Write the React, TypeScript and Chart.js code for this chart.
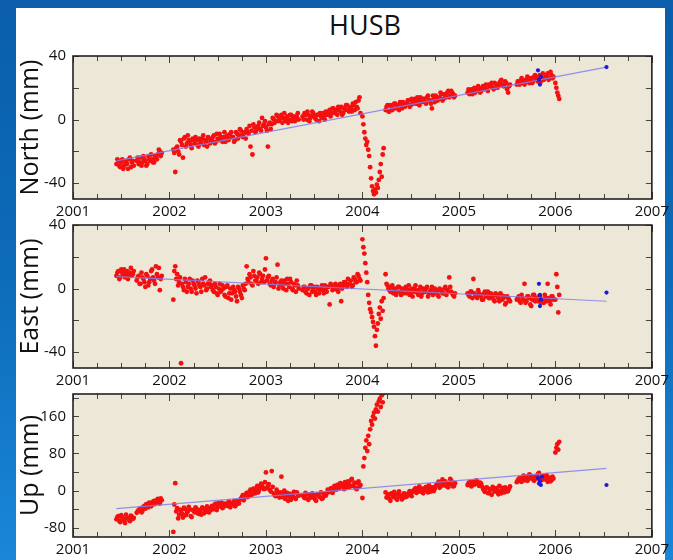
import React, { useEffect, useRef } from 'react';
import { Chart, registerables } from 'chart.js';

Chart.register(...registerables);

// ---- epochs (decimal years), shared by the three components ----
const EPOCHS = [
  2001.45, 2001.47, 2001.49, 2001.51, 2001.53, 2001.55, 2001.57, 2001.59, 2001.61, 2001.63,
  2001.66, 2001.68, 2001.70, 2001.72, 2001.74, 2001.76, 2001.78, 2001.80, 2001.82, 2001.84, 2001.86, 2001.88, 2001.90, 2001.92,
  2002.04, 2002.06, 2002.08, 2002.10, 2002.12, 2002.14, 2002.16, 2002.18, 2002.20, 2002.22, 2002.24, 2002.26, 2002.28, 2002.30, 2002.32, 2002.34, 2002.36, 2002.38, 2002.40, 2002.42,
  2002.44, 2002.46, 2002.48, 2002.50, 2002.52, 2002.54, 2002.56, 2002.58, 2002.60, 2002.62, 2002.64, 2002.66, 2002.68, 2002.70, 2002.72, 2002.74, 2002.76, 2002.78,
  2002.80, 2002.82, 2002.84, 2002.86, 2002.88, 2002.90, 2002.92, 2002.94, 2002.96, 2002.98,
  2003.00, 2003.02, 2003.04, 2003.06, 2003.08, 2003.10, 2003.12, 2003.14, 2003.16, 2003.18, 2003.20, 2003.22, 2003.24, 2003.26, 2003.28, 2003.30, 2003.32, 2003.34,
  2003.38, 2003.40, 2003.42, 2003.44, 2003.46, 2003.48, 2003.50, 2003.52, 2003.54, 2003.56, 2003.58, 2003.60, 2003.62, 2003.64, 2003.66, 2003.68, 2003.70, 2003.72, 2003.74, 2003.76, 2003.78, 2003.80, 2003.82, 2003.84, 2003.86, 2003.88, 2003.90, 2003.92, 2003.94, 2003.96, 2003.98,
  2004.00, 2004.01, 2004.02, 2004.03, 2004.04, 2004.05, 2004.06, 2004.07, 2004.08, 2004.09, 2004.10, 2004.11, 2004.12, 2004.13, 2004.14, 2004.15, 2004.16, 2004.17, 2004.18, 2004.19, 2004.20, 2004.21, 2004.22,
  2004.24, 2004.26, 2004.28, 2004.30, 2004.32, 2004.34, 2004.36, 2004.38, 2004.40, 2004.42, 2004.44, 2004.46, 2004.48, 2004.50, 2004.52, 2004.54, 2004.56, 2004.58, 2004.60, 2004.62, 2004.64, 2004.66, 2004.68, 2004.70, 2004.72, 2004.74, 2004.76, 2004.78, 2004.80, 2004.82, 2004.84, 2004.86, 2004.88, 2004.90, 2004.92, 2004.94, 2004.96,
  2005.09, 2005.11, 2005.13, 2005.15, 2005.17, 2005.19, 2005.21, 2005.23, 2005.25, 2005.27, 2005.29, 2005.31, 2005.33, 2005.35, 2005.37, 2005.39, 2005.41, 2005.43, 2005.45, 2005.47, 2005.49, 2005.51, 2005.53,
  2005.60, 2005.62, 2005.64, 2005.66, 2005.68, 2005.70, 2005.72, 2005.74, 2005.76, 2005.78, 2005.80, 2005.82, 2005.84, 2005.86, 2005.88, 2005.90, 2005.92, 2005.94, 2005.96, 2005.98,
  2006.00, 2006.01, 2006.02, 2006.03, 2006.04,
];

// in-between epochs (second half of the daily solutions)
const EPOCHS_B = [
  2001.46, 2001.48, 2001.50, 2001.52, 2001.54, 2001.56, 2001.58, 2001.60, 2001.62,
  2001.67, 2001.69, 2001.71, 2001.73, 2001.75, 2001.77, 2001.79, 2001.81, 2001.83, 2001.85, 2001.87, 2001.89, 2001.91,
  2002.05, 2002.07, 2002.09, 2002.11, 2002.13, 2002.15, 2002.17, 2002.19, 2002.21, 2002.23, 2002.25, 2002.27, 2002.29, 2002.31, 2002.33, 2002.35, 2002.37, 2002.39, 2002.41, 2002.43,
  2002.45, 2002.47, 2002.49, 2002.51, 2002.53, 2002.55, 2002.57, 2002.59, 2002.61, 2002.63, 2002.65, 2002.67, 2002.69, 2002.71, 2002.73, 2002.75, 2002.77, 2002.79,
  2002.81, 2002.83, 2002.85, 2002.87, 2002.89, 2002.91, 2002.93, 2002.95, 2002.97, 2002.99,
  2003.01, 2003.03, 2003.05, 2003.07, 2003.09, 2003.11, 2003.13, 2003.15, 2003.17, 2003.19, 2003.21, 2003.23, 2003.25, 2003.27, 2003.29, 2003.31, 2003.33,
  2003.39, 2003.41, 2003.43, 2003.45, 2003.47, 2003.49, 2003.51, 2003.53, 2003.55, 2003.57, 2003.59, 2003.61, 2003.63, 2003.65, 2003.67, 2003.69, 2003.71, 2003.73, 2003.75, 2003.77, 2003.79, 2003.81, 2003.83, 2003.85, 2003.87, 2003.89, 2003.91, 2003.93, 2003.95, 2003.97,
  2004.25, 2004.27, 2004.29, 2004.31, 2004.33, 2004.35, 2004.37, 2004.39, 2004.41, 2004.43, 2004.45, 2004.47, 2004.49, 2004.51, 2004.53, 2004.55, 2004.57, 2004.59, 2004.61, 2004.63, 2004.65, 2004.67, 2004.69, 2004.71, 2004.73, 2004.75, 2004.77, 2004.79, 2004.81, 2004.83, 2004.85, 2004.87, 2004.89, 2004.91, 2004.93, 2004.95,
  2005.10, 2005.12, 2005.14, 2005.16, 2005.18, 2005.20, 2005.22, 2005.24, 2005.26, 2005.28, 2005.30, 2005.32, 2005.34, 2005.36, 2005.38, 2005.40, 2005.42, 2005.44, 2005.46, 2005.48, 2005.50, 2005.52,
  2005.61, 2005.63, 2005.65, 2005.67, 2005.69, 2005.71, 2005.73, 2005.75, 2005.77, 2005.79, 2005.81, 2005.83, 2005.85, 2005.87, 2005.89, 2005.91, 2005.93, 2005.95, 2005.97,
];

// ---- North (mm) ----
const NORTH = [
  -28, -26, -30, -25, -29, -27, -31, -24, -27, -29,
  -26, -28, -24, -27, -25, -29, -23, -26, -25, -27, -24, -22, -20, -21,
  -19, -33, -17, -22, -14, -24, -11, -15, -13, -16, -12, -15, -13, -17, -14, -12, -16, -14, -11, -15,
  -13, -10, -14, -12, -9, -13, -11, -14, -10, -12, -8, -11, -13, -9, -10, -7, -11, -8,
  -6, -9, -17, -22, -5, -7, -4, -6, 1, -3,
  -5, -17, -2, -3, 0, -1, 2, 0, 3, 1, -1, 2, 0, 3, 1, -1, 2, 0,
  2, 4, 0, 3, 1, 5, 2, 0, 3, 4, 1, 2, 5, 3, 6, 4, 7, 5, 3, 6, 8, 4, 6, 9, 5, 7, 10, 6, 8, 12, 4,
  2, -3, -8, -12, -16, -14, -19, -23, -30, -37, -42, -45, -47, -44, -46, -41, -43, -38, -33, -28, -36, -22, -18,
  6, 9, 5, 8, 7, 10, 8, 6, 9, 11, 8, 10, 12, 9, 11, 13, 10, 12, 14, 11, 13, 10, 15, 12, 7, 13, 15, 12, 14, 16, 13, 15, 17, 14, 18, 16, 15,
  17, 16, 19, 18, 17, 20, 19, 18, 21, 20, 19, 22, 21, 20, 23, 22, 21, 24, 22, 21, 23, 17, 22,
  22, 24, 23, 25, 22, 24, 26, 25, 23, 27, 26, 24, 28, 26, 25, 27, 29, 26, 28, 27,
  23, 20, 17, 15, 13,
];
const NORTH_B = [
  -25, -29, -27, -31, -26, -28, -25, -30, -26,
  -24, -27, -29, -23, -26, -28, -25, -22, -27, -23, -25, -19, -23,
  -21, -18, -20, -13, -16, -12, -17, -10, -14, -18, -13, -11, -16, -12, -15, -10, -13, -17, -12, -14,
  -11, -15, -9, -13, -11, -14, -8, -12, -13, -9, -11, -14, -8, -12, -6, -10, -9, -12,
  -8, -4, -7, -3, -8, -5, -2, -7, -4, -1,
  -7, -3, -6, 1, -2, 3, -1, 1, -2, 4, 0, -2, 3, -1, 2, 0, 4,
  0, 3, 5, -1, 2, 4, 1, 3, -1, 2, 4, 0, 3, 5, 2, 7, 4, 6, 8, 5, 3, 7, 9, 6, 8, 5, 9, 11, 7, 14,
  8, 5, 9, 6, 10, 7, 9, 11, 7, 10, 9, 12, 8, 13, 10, 11, 14, 9, 12, 13, 11, 14, 12, 10, 15, 11, 14, 13, 17, 12, 16, 14, 18, 15, 17, 14,
  19, 17, 16, 20, 18, 21, 17, 20, 19, 22, 18, 21, 23, 19, 22, 20, 23, 25, 21, 24, 19, 21,
  24, 22, 26, 23, 25, 27, 23, 26, 24, 28, 25, 27, 24, 29, 26, 28, 25, 30, 26,
];

// ---- East (mm) ----
const EAST = [
  8, 11, 7, 10, 12, 9, 6, 10, 8, 11,
  5, 8, 3, 7, 4, 9, 2, 6, 12, 5, 14, 7, -1, 8,
  -7, 14, 9, 4, -47, 1, 6, -2, 3, 0, 5, 2, -3, 4, 1, 6, 2, -1, 3, 5,
  2, -2, 1, -4, 3, -1, 0, -5, 2, -3, -7, 1, -2, -8, 0, -4, 2, -1,
  14, 4, 7, 2, 8, 5, 3, 9, 6, 4,
  19, 7, 3, 5, 1, 4, 15, 2, 5, 0, 3, 6, 1, 4, -1, 2, 5, 0,
  -1, 1, -3, 0, 2, -2, 1, -4, 0, -1, 2, -3, 0, 1, -10, 2, 0, 3, -1, 1, -8, 2, 4, 1, 3, 5, 2, 6, 4, 8, 5,
  31, 26, 22, 16, 10, 4, -4, -9, -13, -15, -18, -21, -24, -30, -36, -26, -22, -16, -12, -19, -8, -14, -6,
  9, 2, -1, 1, -3, 0, -2, 1, -4, -1, 0, -3, 2, -2, -5, 0, -1, -4, 1, -3, -2, 0, -5, -2, 1, -3, -1, -4, 0, -2, -3, 1, -1, 7, -2, -4, -3,
  -3, -5, -2, 6, -4, -6, -3, -5, -7, -2, -4, -6, -3, -5, -8, -4, -6, -3, -7, -5, -9, -6, -8,
  -7, -5, -9, -6, 3, -8, -5, -10, -7, -4, -6, -8, -5, -7, -9, -6, 3, -8, -5, -7,
  -7, 9, 1, -15, -4,
];
const EAST_B = [
  10, 6, 12, 9, 7, 11, 8, 13, 9,
  7, 3, 10, 6, 1, 8, 4, 11, 7, 3, 9, 13, 6,
  11, 6, 2, 7, 3, -1, 4, 1, 6, -2, 3, 0, 5, 2, -2, 3, 7, 0, 4, 1,
  -1, 3, -3, 0, -2, 2, -4, 1, -6, 0, -3, -1, -5, 1, -2, -6, 0, 3,
  6, 9, 3, 11, 5, 7, 10, 4, 8, 12,
  5, 8, 2, 6, 3, 7, 0, 4, 2, 5, -1, 3, 6, 0, 3, -2, 2,
  1, -2, 0, -4, 2, 0, -2, 1, -3, 0, -1, 2, -2, 1, 3, -1, 0, 2, -2, 3, 0, 4, 2, 6, 3, 1, 7, 4, 9, 6,
  3, 0, -2, 2, -1, -4, 1, -2, 0, -3, 1, -1, -4, 0, -2, 2, -3, -1, -5, 0, -2, 1, -3, -1, -4, 0, -2, -5, -1, -3, 0, -4, -2, 1, -3, -5,
  -4, -2, -6, -3, -5, -1, -4, -7, -3, -5, -2, -6, -4, -7, -3, -5, -8, -4, -6, -10, -5, -7,
  -6, -8, -4, -7, -9, -5, -6, -11, -4, -8, -6, -5, -9, -7, -4, -8, -6, -10, -5,
];

// ---- Up (mm) ----
const UP = [
  -62, -55, -68, -58, -64, -52, -60, -66, -56, -59,
  -48, -42, -38, -44, -33, -29, -36, -27, -31, -22, -25, -18, -28, -21,
  -89, 16, -38, -52, -44, -58, -40, -48, -35, -55, -42, -47, -39, -50, -44, -36, -49, -41, -46, -38,
  -33, -40, -28, -36, -31, -26, -35, -29, -33, -24, -30, -27, -34, -22, -28, -18, -10, -15,
  -5, -12, 2, -8, -2, 5, -4, 8, 12, 3,
  39, 10, 2, 42, -6, -12, -3, -15, 30, -8, -18, -5, -13, -20, -9, -16, -4, -11,
  -10, -16, -8, -20, -12, -6, -15, -22, -9, -14, -18, -7, -11, 2, -3, 5, 0, 8, 12, 4, 15, 9, 18, 6, 14, 22, 10, 17, 3, 20, 12,
  -16, 52, 70, 92, 108, 85, 118, 100, 132, 150, 142, 160, 168, 155, 175, 185, 170, 192, 198, 180, 205, 190, 210,
  -4, -12, -18, -6, -14, -9, -20, -2, -11, -16, -7, -13, -5, -10, -3, 2, -5, 6, -2, 4, 0, 8, -4, 3, 7, -1, 10, 15, 6, 18, 12, 20, 8, 14, 22, 9, 16,
  12, 18, 9, 16, 14, 20, 10, 15, 4, -3, 7, -6, 2, 8, -2, 5, -8, 0, 6, -4, 3, -1, 9,
  18, 25, 20, 28, 22, 30, 24, 33, 26, 21, 29, 36, 27, 23, 31, 25, 19, 28, 22, 26,
  82, 92, 100, 88, 105,
];
const UP_B = [
  -57, -65, -53, -61, -70, -58, -63, -54, -61,
  -45, -40, -47, -35, -39, -31, -26, -34, -24, -29, -20, -26, -17,
  -30, -45, -60, -41, -50, -37, -53, -45, -40, -57, -43, -36, -48, -42, -52, -39, -45, -34, -47, -42,
  -37, -30, -42, -27, -34, -38, -28, -32, -25, -36, -29, -22, -31, -26, -20, -14, -21, -8,
  -14, -2, -9, 4, -6, 10, 1, 15, 6, 18,
  5, 14, -2, 8, -10, 2, -8, -4, -14, 0, -11, -22, -7, -15, -3, -18, -8,
  -13, -5, -18, -9, -15, -11, -19, -8, -13, -4, -16, -10, -6, -1, 4, -5, 10, 2, 7, 16, 11, 3, 14, 20, 8, 25, 13, 5, 16, 9,
  -15, -8, -22, -10, -3, -17, -7, -13, -19, -6, -14, -9, -1, -12, 0, 5, -3, 9, 1, -6, 5, 3, 11, -2, 6, 4, 13, 19, 9, 24, 11, 16, 7, 25, 13, 10,
  16, 11, 19, 13, 22, 14, 17, 9, 0, 6, -5, 3, -9, 5, 1, -3, 10, -6, 2, 7, -2, 4,
  22, 27, 19, 32, 25, 21, 35, 28, 24, 30, 26, 38, 22, 29, 24, 33, 27, 20, 30,
];

// ---- blue points (last solutions) ----
const NORTH_BLUE_T = [2005.82, 2005.83, 2005.84, 2005.85, 2006.53];
const NORTH_BLUE = [31, 25, 22, 27, 33];
const EAST_BLUE_T = [2005.83, 2005.84, 2005.84, 2005.85, 2006.53];
const EAST_BLUE = [3, -4, -11, -7, -2.5];
const UP_BLUE_T = [2005.82, 2005.83, 2005.84, 2005.85, 2005.86, 2006.53];
const UP_BLUE = [27, 15, 20, 12, 30, 12];

// ---- trend lines ----
const TREND_T = [2001.45, 2006.53];
const NORTH_TREND = [-26, 33];
const EAST_TREND = [7.5, -8];
const UP_TREND = [-39, 48];

// ---- ticks ----
const YEARS = [2001, 2002, 2003, 2004, 2005, 2006, 2007];
const X_TICKS = [
  2001, 2001.25, 2001.5, 2001.75, 2002, 2002.25, 2002.5, 2002.75, 2003, 2003.25, 2003.5, 2003.75,
  2004, 2004.25, 2004.5, 2004.75, 2005, 2005.25, 2005.5, 2005.75, 2006, 2006.25, 2006.5, 2006.75, 2007,
];
const NE_TICKS = [-40, -20, 0, 20, 40];
const NE_LABELS = [-40, 0, 40];
const UP_TICKS = [-80, -40, 0, 40, 80, 120, 160, 200];
const UP_LABELS = [-80, 0, 80, 160];

const FONT = "'Open Sans', 'DejaVu Sans', sans-serif";

const framePlugin = {
  id: 'frame',
  beforeDatasetsDraw(chart: any) {
    const { ctx, chartArea: a } = chart;
    ctx.save();
    ctx.fillStyle = '#ece7d6';
    ctx.fillRect(a.left, a.top, a.right - a.left, a.bottom - a.top);
    ctx.restore();
  },
  afterDraw(chart: any) {
    const { ctx, chartArea: a } = chart;
    const x = chart.scales.x;
    const y = chart.scales.y;
    ctx.save();
    ctx.strokeStyle = '#444';
    ctx.lineWidth = 1;
    ctx.beginPath();
    x.ticks.forEach((t: any) => {
      const px = Math.round(x.getPixelForValue(t.value)) + 0.5;
      const len = YEARS.includes(t.value) ? 7 : 5;
      ctx.moveTo(px, a.top);
      ctx.lineTo(px, a.top + len);
      ctx.moveTo(px, a.bottom);
      ctx.lineTo(px, a.bottom - len);
    });
    y.ticks.forEach((t: any) => {
      const py = Math.round(y.getPixelForValue(t.value)) + 0.5;
      ctx.moveTo(a.left, py);
      ctx.lineTo(a.left + 6, py);
      ctx.moveTo(a.right, py);
      ctx.lineTo(a.right - 6, py);
    });
    ctx.stroke();
    ctx.strokeStyle = '#222';
    ctx.lineWidth = 1.6;
    ctx.strokeRect(a.left, a.top, a.right - a.left, a.bottom - a.top);
    ctx.restore();
  },
};

type PanelProps = {
  top: number;
  title: string;
  values: number[];
  valuesB: number[];
  blueT: number[];
  blueV: number[];
  trend: number[];
  yMin: number;
  yMax: number;
  yTicks: number[];
  yLabels: number[];
};

const CANVAS_H = 183;

function pairs(ts: number[], vs: number[]) {
  const n = Math.min(ts.length, vs.length);
  const out = [];
  for (let i = 0; i < n; i++) out.push({ x: ts[i], y: vs[i] });
  return out;
}

function Panel(p: PanelProps) {
  const ref = useRef<HTMLCanvasElement>(null);
  useEffect(() => {
    const red = pairs(EPOCHS, p.values).concat(pairs(EPOCHS_B, p.valuesB));
    const chart = new Chart(ref.current as HTMLCanvasElement, {
      type: 'scatter',
      data: {
        datasets: [
          {
            type: 'scatter',
            data: pairs(p.blueT, p.blueV),
            backgroundColor: '#1c1cd8',
            borderWidth: 0,
            pointRadius: 2.1,
            order: 0,
          } as any,
          {
            type: 'line',
            data: pairs(TREND_T, p.trend),
            borderColor: 'rgba(128,128,240,0.85)',
            borderWidth: 1.2,
            pointRadius: 0,
            fill: false,
            order: 1,
          } as any,
          {
            type: 'scatter',
            data: red,
            backgroundColor: '#f41010',
            borderWidth: 0,
            pointRadius: 2.4,
            order: 2,
          } as any,
        ],
      },
      options: {
        animation: false,
        responsive: false,
        events: [],
        layout: { padding: { left: 0, right: 21, top: 15, bottom: 0 } },
        plugins: { legend: { display: false }, tooltip: { enabled: false } },
        scales: {
          x: {
            type: 'linear',
            min: 2001,
            max: 2007,
            grid: { display: false, drawTicks: false },
            border: { display: false },
            afterBuildTicks: (s: any) => {
              s.ticks = X_TICKS.map((v) => ({ value: v }));
            },
            afterFit: (s: any) => {
              s.height = 24;
            },
            ticks: {
              autoSkip: false,
              maxRotation: 0,
              padding: 4,
              color: '#111',
              font: { family: FONT, size: 15 },
              callback: (v: any) => (YEARS.includes(Number(v)) ? String(v) : ''),
            },
          },
          y: {
            type: 'linear',
            min: p.yMin,
            max: p.yMax,
            grid: { display: false, drawTicks: false },
            border: { display: false },
            afterBuildTicks: (s: any) => {
              s.ticks = p.yTicks.map((v) => ({ value: v }));
            },
            afterFit: (s: any) => {
              s.width = 73;
            },
            ticks: {
              autoSkip: false,
              padding: 7,
              color: '#111',
              font: { family: FONT, size: 15 },
              callback: (v: any) => (p.yLabels.includes(Number(v)) ? String(v) : ''),
            },
            title: {
              display: true,
              text: p.title,
              color: '#111',
              font: { family: FONT, size: 25 },
              padding: { top: 16, bottom: 0 },
            },
          },
        },
      } as any,
      plugins: [framePlugin],
    });
    return () => chart.destroy();
  }, []);
  return (
    <canvas
      ref={ref}
      width={673}
      height={CANVAS_H}
      style={{ position: 'absolute', left: 0, top: p.top, width: 673, height: CANVAS_H }}
    />
  );
}

export default function App() {
  return (
    <div
      style={{
        position: 'fixed',
        left: 0,
        top: 0,
        width: 673,
        height: 560,
        overflow: 'hidden',
        background: 'linear-gradient(to bottom, #0a5eaa 0%, #0d6cba 50%, #1a86d8 100%)',
      }}
    >
      <div style={{ position: 'absolute', left: 16, top: 8, width: 649, height: 552, background: '#ffffff' }} />
      <div
        style={{
          position: 'absolute',
          left: 265,
          top: 10,
          width: 200,
          textAlign: 'center',
          fontFamily: FONT,
          fontSize: 27,
          lineHeight: '30px',
          color: '#111',
        }}
      >
        HUSB
      </div>
      <Panel top={40} title="North (mm)" values={NORTH} valuesB={NORTH_B} blueT={NORTH_BLUE_T} blueV={NORTH_BLUE} trend={NORTH_TREND} yMin={-50} yMax={40} yTicks={NE_TICKS} yLabels={NE_LABELS} />
      <Panel top={209} title="East (mm)" values={EAST} valuesB={EAST_B} blueT={EAST_BLUE_T} blueV={EAST_BLUE} trend={EAST_TREND} yMin={-50} yMax={40} yTicks={NE_TICKS} yLabels={NE_LABELS} />
      <Panel top={378} title="Up (mm)" values={UP} valuesB={UP_B} blueT={UP_BLUE_T} blueV={UP_BLUE} trend={UP_TREND} yMin={-100} yMax={208} yTicks={UP_TICKS} yLabels={UP_LABELS} />
    </div>
  );
}
